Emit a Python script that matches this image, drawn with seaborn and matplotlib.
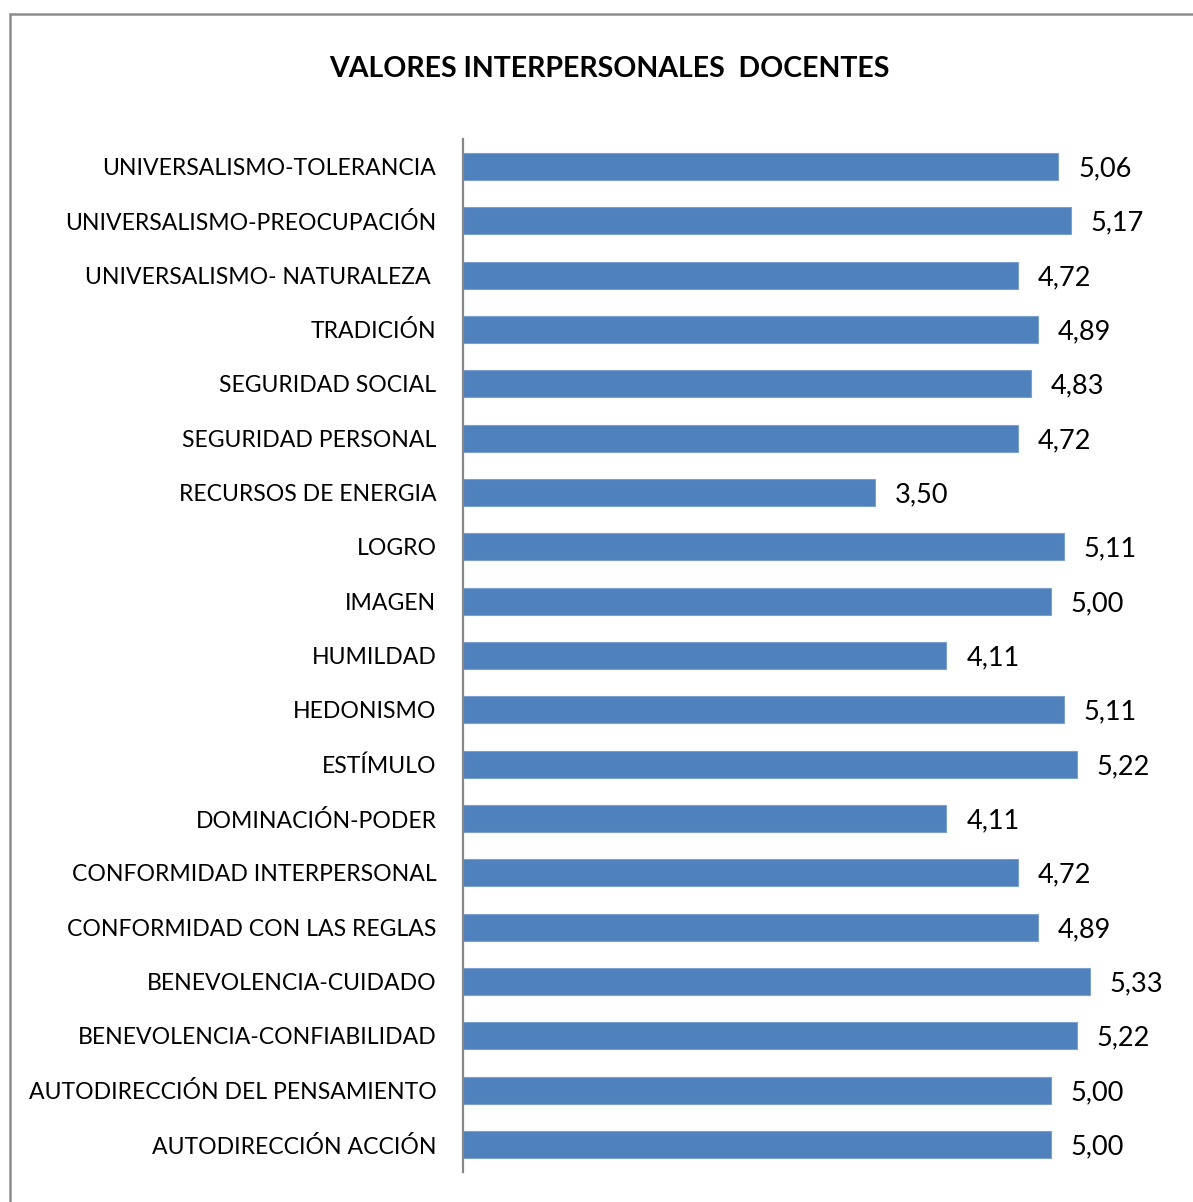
import matplotlib
matplotlib.use("Agg")
import matplotlib.pyplot as plt
from matplotlib.patches import Rectangle
import pandas as pd
import seaborn as sns

# datos (de arriba hacia abajo)
categorias = [
    "UNIVERSALISMO-TOLERANCIA",
    "UNIVERSALISMO-PREOCUPACIÓN",
    "UNIVERSALISMO- NATURALEZA ",
    "TRADICIÓN",
    "SEGURIDAD SOCIAL",
    "SEGURIDAD PERSONAL",
    "RECURSOS DE ENERGIA",
    "LOGRO",
    "IMAGEN",
    "HUMILDAD",
    "HEDONISMO",
    "ESTÍMULO",
    "DOMINACIÓN-PODER",
    "CONFORMIDAD INTERPERSONAL",
    "CONFORMIDAD CON LAS REGLAS",
    "BENEVOLENCIA-CUIDADO",
    "BENEVOLENCIA-CONFIABILIDAD",
    "AUTODIRECCIÓN DEL PENSAMIENTO",
    "AUTODIRECCIÓN ACCIÓN",
]
valores = [5.06, 5.17, 4.72, 4.89, 4.83, 4.72, 3.50, 5.11, 5.00, 4.11,
           5.11, 5.22, 4.11, 4.72, 4.89, 5.33, 5.22, 5.00, 5.00]
titulo = "VALORES INTERPERSONALES  DOCENTES"

df = pd.DataFrame({"categoria": categorias, "valor": valores})

sns.set_style("white")
plt.rcParams["font.family"] = ["Lato", "DejaVu Sans"]
plt.rcParams["text.color"] = "black"
plt.rcParams["ytick.color"] = "black"

fig = plt.figure(figsize=(11.93, 12.02), dpi=100)
ax = fig.add_axes([0.388, 0.0252, 0.5915, 0.8589])

sns.barplot(data=df, x="valor", y="categoria", orient="h", color="#4F81BD",
            saturation=1, width=0.5, edgecolor="#7BA0CD", linewidth=0.8, ax=ax)

ax.set_xlim(0, 6.0)
ax.set_xlabel("")
ax.set_ylabel("")
ax.set_xticks([])
for s in ["top", "right", "bottom"]:
    ax.spines[s].set_visible(False)
ax.spines["left"].set_color("#878787")
ax.spines["left"].set_linewidth(1.6)

ax.tick_params(axis="y", length=0, pad=19, labelsize=16.6, labelcolor="black")

# etiquetas de valor con coma decimal
for i, v in enumerate(valores):
    ax.text(v + 0.17, i + 0.04, f"{v:.2f}".replace(".", ","), va="center",
            ha="left", fontsize=19.5, color="black")

fig.text(0.5105, 0.943, titulo, ha="center", va="center", fontsize=20.5,
         fontweight="bold", color="black")

# marco del grafico
fig.patches.append(Rectangle((9.5 / 1193, -0.1), 1.2, 1 - 13.5 / 1202 + 0.1,
                             transform=fig.transFigure, fill=False,
                             edgecolor="#8C8C8C", linewidth=1.8))

fig.savefig("out.png", dpi=100)
